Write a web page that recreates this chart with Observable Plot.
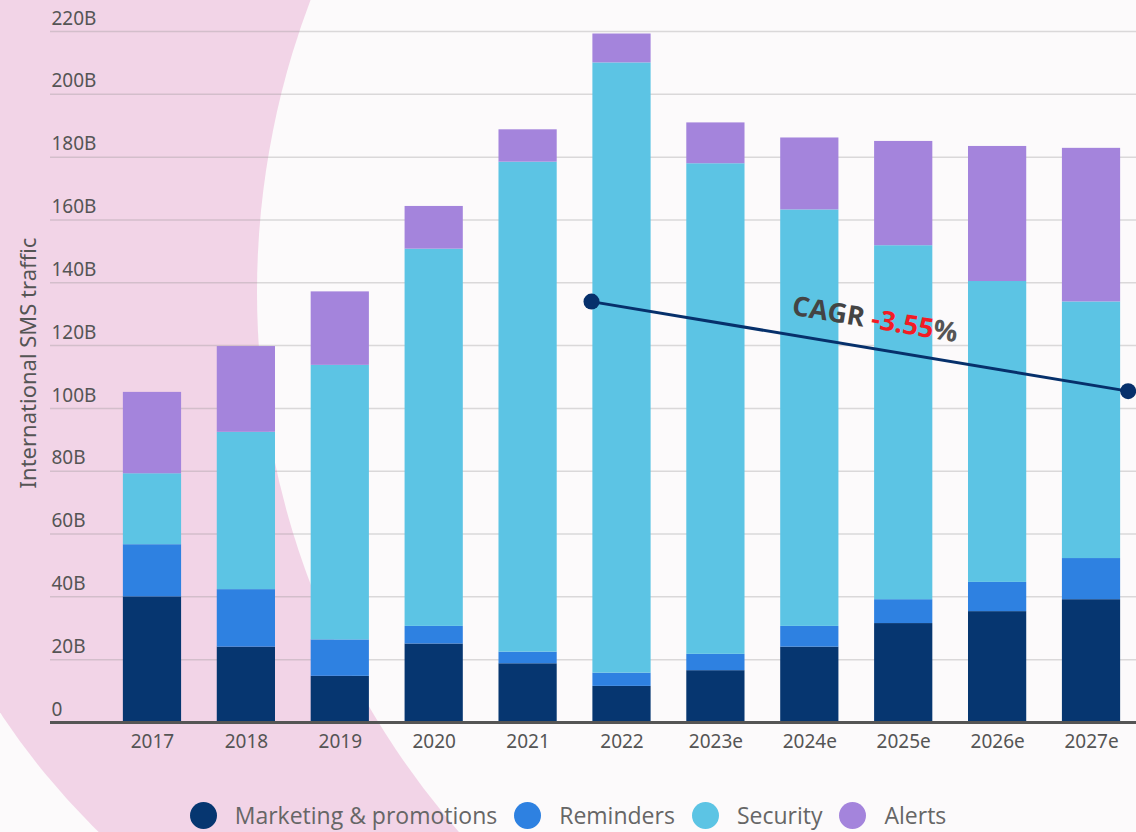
<!DOCTYPE html>
<html>
<head>
<meta charset="utf-8">
<script src="https://cdn.jsdelivr.net/npm/d3@7"></script>
<script src="https://cdn.jsdelivr.net/npm/@observablehq/plot@0.6"></script>
<style>
  html, body { margin: 0; padding: 0; background: #fcfafb; overflow: hidden; }
  #wrap { position: relative; width: 1136px; height: 832px; }
  #bg, #chart { position: absolute; left: 0; top: 0; }
  #legend {
    position: absolute; left: 0; top: 799px; width: 1136px;
    display: flex; justify-content: center; align-items: center; gap: 17px;
    font-family: "Open Sans", "Noto Sans", sans-serif; font-size: 23px; color: #666;
  }
  #legend .item { display: flex; align-items: center; }
  #legend .sw { width: 27px; height: 27px; border-radius: 50%; margin-right: 18px; }
</style>
</head>
<body>
<div id="wrap">
  <div id="bg"></div>
  <div id="chart"></div>
  <div id="legend"></div>
</div>
<script>
// Years on the x axis (the "e" suffix marks estimates)
const years = ["2017", "2018", "2019", "2020", "2021", "2022", "2023e", "2024e", "2025e", "2026e", "2027e"];

// International SMS traffic by use case, in billions of messages
const marketing = [40.0, 24.0, 14.7, 25.0, 18.7, 11.5, 16.5, 24.0, 31.5, 35.3, 39.1];
const reminders = [16.6, 18.3, 11.6, 5.6, 3.7, 4.2, 5.2, 6.6, 7.6, 9.3, 13.1];
const security  = [22.6, 50.1, 87.4, 120.1, 156.0, 194.3, 156.2, 132.6, 112.7, 95.8, 81.7];
const alerts    = [25.9, 27.3, 23.4, 13.6, 10.3, 9.2, 13.0, 22.9, 33.2, 43.0, 48.9];

const categories = ["Marketing & promotions", "Reminders", "Security", "Alerts"];
const colors = ["#063670", "#2e81e1", "#5cc4e4", "#a484dc"];

// Y axis ticks (billions)
const yTicks = [0, 20, 40, 60, 80, 100, 120, 140, 160, 180, 200, 220];

// CAGR trend annotation
const cagrFrom = "2022";
const cagrTo = "2027e";
const cagrValues = [134, 105.5];
const cagrRate = "-3.55";

// Tidy rows for the stacked bars
const seriesValues = [marketing, reminders, security, alerts];
const rows = [];
years.forEach((year, i) => {
  categories.forEach((category, k) => rows.push({i, year, category, value: seriesValues[k][i]}));
});

// Background decoration: pink disc partly covered by a pale disc
const W = 1136, H = 832;
const bg = d3.select("#bg").append("svg").attr("width", W).attr("height", H);
bg.append("rect").attr("width", W).attr("height", H).attr("fill", "#fcfafb");
bg.append("circle").attr("cx", 600).attr("cy", 318).attr("r", 718).attr("fill", "#f2d4e7");
bg.append("circle").attr("cx", 1080).attr("cy", 292).attr("r", 823).attr("fill", "#fcfafb");

const half = 0.31; // half bar width, in x index units
const idx = y => years.indexOf(y);
const cagrLine = [{
  x1: idx(cagrFrom) - 0.325, y1: cagrValues[0],
  x2: idx(cagrTo) + 0.39, y2: cagrValues[1]
}];
const cagrDots = [
  {x: cagrLine[0].x1, y: cagrLine[0].y1},
  {x: cagrLine[0].x2, y: cagrLine[0].y2}
];
const tLabel = 0.528;
const cagrLabel = [{
  x: cagrLine[0].x1 + tLabel * (cagrLine[0].x2 - cagrLine[0].x1),
  y: cagrLine[0].y1 + tLabel * (cagrLine[0].y2 - cagrLine[0].y1),
  text: `CAGR ${cagrRate}%`
}];

const chart = Plot.plot({
  width: W,
  height: 770,
  marginLeft: 50,
  marginRight: 0,
  marginTop: 31,
  marginBottom: 48,
  style: {background: "transparent", fontFamily: "'Noto Sans', sans-serif", fontSize: "19px", color: "#555"},
  x: {domain: [-1.086, 10.479]},
  y: {domain: [0, 220]},
  color: {domain: categories, range: colors},
  marks: [
    Plot.gridY(yTicks, {stroke: "#8a8a8a", strokeOpacity: 0.3, strokeWidth: 1.5}),
    Plot.axisY(yTicks, {
      anchor: "left", tickSize: 0, tickPadding: 0, textAnchor: "start", dx: 1, dy: -13,
      tickFormat: d => d === 0 ? "0" : d + "B", label: null
    }),
    Plot.axisX(years.map((_, i) => i), {
      anchor: "bottom", tickSize: 0, tickPadding: 12, tickFormat: i => years[i], label: null
    }),
    Plot.text(["International SMS traffic"], {
      frameAnchor: "left", textAnchor: "middle", rotate: -90, dx: -22, dy: -14,
      fontSize: 22, fill: "#555"
    }),
    Plot.rectY(rows, {
      x1: d => d.i - half, x2: d => d.i + half, y: "value", fill: "category"
    }),
    Plot.ruleY([0], {stroke: "#555", strokeWidth: 3}),
    Plot.link(cagrLine, {x1: "x1", y1: "y1", x2: "x2", y2: "y2", stroke: "#06306b", strokeWidth: 3}),
    Plot.dot(cagrDots, {x: "x", y: "y", r: 8, fill: "#06306b"}),
    Plot.text(cagrLabel, {
      x: "x", y: "y", text: "text", rotate: 9.5, dy: -29,
      fontSize: 27, fontWeight: 700, fill: "#444",
      fontFamily: "'Open Sans', sans-serif"
    })
  ]
});
document.getElementById("chart").appendChild(chart);

// Colour the rate inside the CAGR label
d3.select(chart).selectAll("text").each(function() {
  if (this.textContent === `CAGR ${cagrRate}%`) {
    const t = d3.select(this);
    t.text(null);
    t.append("tspan").attr("fill", "#444").text("CAGR ");
    t.append("tspan").attr("fill", "#f21c24").text(cagrRate);
    t.append("tspan").attr("fill", "#555").text("%");
  }
});

// Legend
const legend = d3.select("#legend");
categories.forEach((c, k) => {
  const item = legend.append("div").attr("class", "item");
  item.append("span").attr("class", "sw").style("background", colors[k]);
  item.append("span").text(c);
});
</script>
</body>
</html>
